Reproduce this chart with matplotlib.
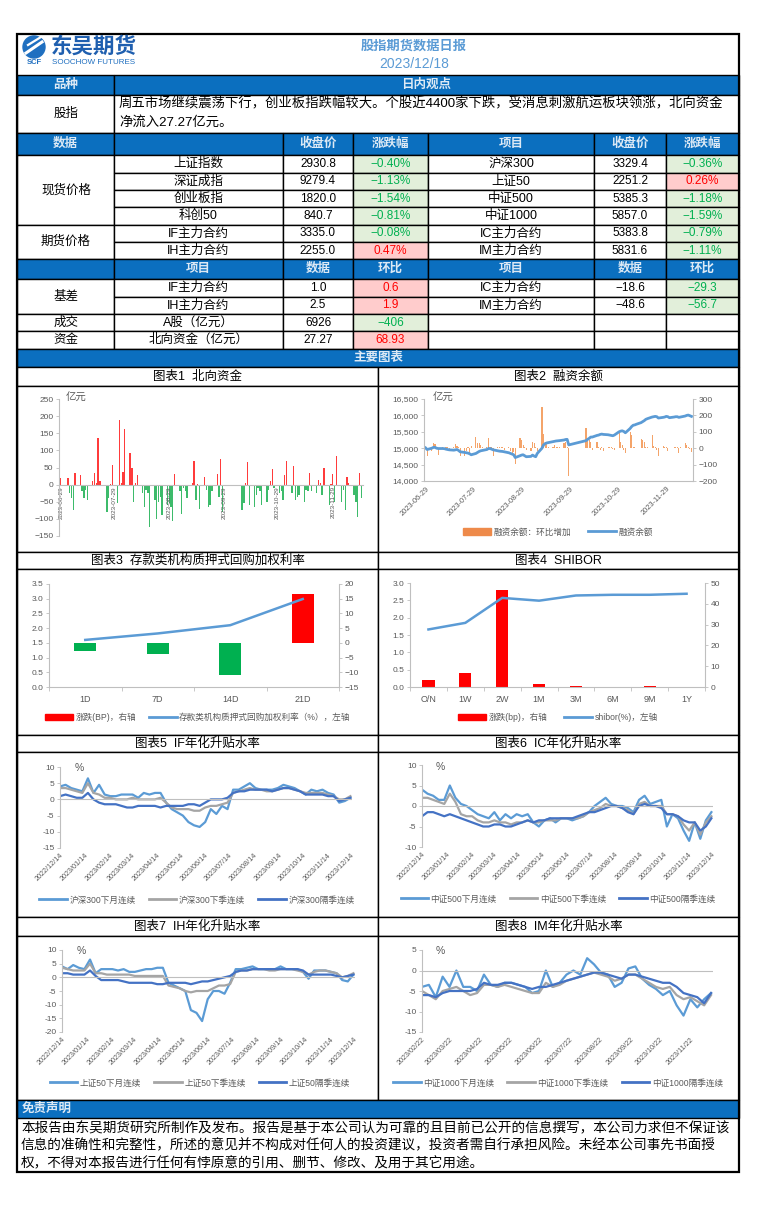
import numpy as np
import pandas as pd
import matplotlib
matplotlib.use("Agg")
import matplotlib.pyplot as plt
from matplotlib.patches import Rectangle, Circle
from matplotlib.lines import Line2D
from matplotlib.ticker import FuncFormatter

plt.rcParams['font.family'] = ['Liberation Sans', 'Noto Sans CJK SC', 'DejaVu Sans']
plt.rcParams['axes.unicode_minus'] = True

W, H = 757, 1206
BLUE = '#0B6FBF'
HEAD_TXT = '#DCE9F5'
GRAY = '#595959'
SPINE = '#BFBFBF'
RED_BG, RED_TX = '#FFCCCC', '#FF0000'
GRN_BG, GRN_TX = '#E2EFDA', '#00B050'
C_LIGHT, C_GRAY, C_DARK = '#5B9BD5', '#A5A5A5', '#4472C4'

# ---------------- table data ----------------
report_date = "2023/12/18"
comment = ["周五市场继续震荡下行，创业板指跌幅较大。个股近4400家下跌，受消息刺激航运板块领涨，北向资金",
           "净流入27.27亿元。"]
names_left = ["上证指数", "深证成指", "创业板指", "科创50", "IF主力合约", "IH主力合约"]
close_left = [2930.8, 9279.4, 1820.0, 840.7, 3335.0, 2255.0]
chg_left = [-0.40, -1.13, -1.54, -0.81, -0.08, 0.47]
names_right = ["沪深300", "上证50", "中证500", "中证1000", "IC主力合约", "IM主力合约"]
close_right = [3329.4, 2251.2, 5385.3, 5857.0, 5383.8, 5831.6]
chg_right = [-0.36, 0.26, -1.18, -1.59, -0.79, -1.11]
basis_names_l = ["IF主力合约", "IH主力合约"]
basis_l = [1.0, 2.5]
basis_chg_l = [0.6, 1.9]
basis_names_r = ["IC主力合约", "IM主力合约"]
basis_r = [-18.6, -48.6]
basis_chg_r = [-29.3, -56.7]
turnover = 6926
turnover_chg = -406
north = 27.27
north_chg = 68.93

# ---------------- chart data ----------------
holidays = ["2023-09-29", "2023-10-02", "2023-10-03", "2023-10-04", "2023-10-05", "2023-10-06"]
trade_days = pd.bdate_range("2023-06-29", "2023-12-15").drop(pd.to_datetime(holidays))

north_flow = [18, -5,
              20, -25, -40, -75, 35, 27, -20, -40, -15, -45, 12, 35, 5, 135, 12,
              -5, -80, -40, 3, 57, -55, 190, 5, 38, 163, 92, 48, -50, 5, 27,
              -25, -65, -15, -25, -125, -45, -100, -50, -35, -90, -60, -55, -65, -105, 32,
              -20, -85, -10, -20, -40, 5, 68, -45, 3, -70, 22, -15, -65, -60, -20,
              30, -35, 75, -80,
              -75, -55, 5, 67, -60, -65, -30, -10, -20, -60, -50, -15, 12, 45, -10,
              -25, -20, -45, 28, 70, -25, 53, -45, -35, -30, -50, -15, -20, 35, -20,
              -25, 14, 5, -30, 50, -60, 3, 30, -50, 83, -50, -15, -75, 22, 5,
              -30, -50, -95, 35, -40]

margin_chg = [10, -50,
              -20, 30, 25, 5, -40, 5, 3, 8, 5, -15, 10, 25, 12, 10, -45,
              -45, -20, 5, -30, 15, 70, 30, 30, 20, 5, 10, 60, 8, 5, -50,
              5, 5, 10, 5, -10, 5, -20, -30, -25, -95, 65, 50, 20, 5, -10,
              -20, 40, 30, 10, -15, 250, 85, 40, 30, 10, 10, 20, 8, 5, 10,
              30, 40, 5, -170,
              125, 60, 50, 40, -10, 40, 5, -10, 5, -20, 10, 10, 5, -5, -10,
              100, 40, 20, -10, -30, 100, 80, 10, 5, 3, 55, 50, 40, 10, 5,
              80, 15, 5, -10, -50, 15, 10, 5, -15, 3, 10, 5, 10, -30, 5,
              30, 20, 10, -5, -25]

margin_bal = [15010, 14960,
              15000, 15025, 15025, 15000, 14990, 14990, 14985, 14970, 14960, 14950,
              14940, 14950, 14960, 14930, 14890, 14870, 14860, 14850, 14830, 14800,
              14840, 14870, 14900, 14920, 14930, 14960, 14990, 14990, 14970, 14950,
              14920, 14910, 14905, 14900, 14890, 14860, 14840, 14820, 14800, 14715,
              14770, 14790, 14800, 14770, 14740, 14750, 14790, 14760, 14740, 14840,
              15000, 15100, 15140, 15160, 15170, 15200, 15210, 15220, 15225, 15230,
              15250, 15265, 15270, 15100,
              15230, 15270, 15300, 15340, 15340, 15390, 15400, 15420, 15430, 15420,
              15410, 15400, 15390, 15380, 15400, 15500, 15520, 15530, 15510, 15470,
              15600, 15660, 15700, 15710, 15730, 15780, 15810, 15840, 15880, 15900,
              15950, 15960, 15970, 15960, 15920, 15940, 15950, 15970, 15960, 15930,
              15950, 15960, 15960, 15940, 15950, 15980, 16000, 16010, 15990, 15970]

repo_terms = ["1D", "7D", "14D", "21D"]
repo_rate = [1.60, 1.82, 2.10, 2.99]
repo_chg = [-2.7, -3.8, -10.9, 16.5]

shibor_terms = ["O/N", "1W", "2W", "1M", "3M", "6M", "9M", "1Y"]
shibor_rate = [1.66, 1.85, 2.57, 2.49, 2.64, 2.66, 2.66, 2.69]
shibor_chg = [3.2, 6.8, 46.5, 1.4, 0.6, 0.1, 0.6, 0.1]

ts_dates = pd.date_range("2022-12-14", periods=53, freq="7D")
im_dates = pd.date_range("2023-02-22", periods=43, freq="7D")

if_next_month = [4, 4.5, 3.5, 3, 2.5, 6.5, 2, 4.5, 1.5, 1, 1, 1.5, 1.5, 1.5, 0.5, 2, 1.5, 2, 2, -1,
                 -3, -4, -5, -7, -8, -8.5, -7, -3, -4.5, -2, -3, 3, 3, 4, 5, 3.5, 3, 3, 3, 3.5,
                 4.5, 4, 3.5, 2.5, 1.5, 3, 2.5, 3, 2, 1.5, -1, -0.5, 0.5]
if_next_quarter = [3.5, 3.5, 3, 2.5, 2, 5, 2, 1.5, 0.5, 0.5, 0, 0, 0, 0.5, 0, 0, 0, 0, 0.5, -1,
                   -2.5, -3, -3, -3, -3.5, -3.5, -2.5, -2, -2, -1.5, -1, 2, 2.5, 3, 3.5, 3, 3, 2.5, 2.5, 3,
                   3.5, 3.5, 3, 2.5, 2, 2, 2, 2, 1.5, 1, 0, 0, 1]
if_far_quarter = [1, 1.5, 1, 0.5, 0.5, 2, 0, -1, -1.5, -1.5, -1.5, -2, -2.5, -2.5, -2, -2, -2, -2, -2.5, -2,
                  -2, -2, -2, -1.5, -1.5, -2, -1, 0, 0, 0, 0.5, 2, 2.5, 2.5, 3, 3, 3, 3, 2.5, 3,
                  3.5, 3.5, 3, 2.5, 1.5, 1.5, 1.5, 1.5, 1, 1, -0.5, 0, 0.5]

ic_next_month = [4, 3, 2.5, 1.5, 1.5, 5, 2, 0.5, 0, -1, -2, -2.5, -3, -1.5, -3.5, -2, -3, -2, -2.5, -2,
                 -4, -5, -3.5, -3, -4, -3, -3, -3.5, -3, -2.5, -1.5, 0, 1, 2, 0.5, 0, 0, -0.5, -1.5, 1.5,
                 2.5, 0.5, 1, 1.5, -5, -2, -3, -6, -8.5, -4, -8, -3.5, -1.5]
ic_next_quarter = [2, 2, 1.5, 1, 0.5, 3, 1, -2, -2.5, -2.5, -3.5, -4, -4, -3.5, -4, -4, -4.5, -4, -4, -3.5,
                   -4, -4, -3.5, -3.5, -3.5, -3, -3, -3, -3, -2.5, -1.5, -1, -0.5, 0.5, 0, 0, -0.5, -1, -2, 0.5,
                   1, 0, 0, 0, -2, -2, -2.5, -4.5, -6, -4, -7, -4, -2.5]
ic_far_quarter = [-2.5, -1.5, -1.5, -2, -2.5, -2, -2.5, -3, -3.5, -4, -4.5, -5, -5, -4.5, -4.5, -5, -5, -4.5, -4, -3.5,
                  -4, -3.5, -3.5, -3, -3, -3, -3, -3, -2.5, -2, -1.5, -1.5, -1, -0.5, 0, 0, -0.5, -1.5, -2, 0,
                  0.5, 0, 0, -0.5, -2, -2, -2.5, -3.5, -4, -4, -6, -5, -3]

ih_next_month = [4, 3, 4.5, 3.5, 3, 6.5, 1.5, 3, 3, 3, 2.5, 3, 2, 2, 2.5, 3, 3, 3.5, 3.5, -2,
                 -3, -4, -5, -12, -13, -16, -8, -5, -5, -6, -2, 3, 3, 3.5, 4, 3, 3, 3, 3, 4,
                 3, 3, 3, 2, -0.5, 2.5, 2.5, 2.5, 2, 1.5, -1, -1.5, 1]
ih_next_quarter = [3.5, 3, 2.5, 2.5, 2.5, 5, 1.5, 1.5, 1, 1, 1, 1, 1, 0.5, 0.5, 0.5, 0.5, 0.5, 0.5, -3,
                   -3.5, -4, -5, -5.5, -5, -5, -5, -4, -3, -3, -2.5, 2, 2.5, 2.5, 3, 3, 3, 2.5, 2.5, 3,
                   3, 3, 2.5, 2, 1, 2, 2.5, 2.5, 2, 1.5, 0, 0.5, 1.5]
ih_far_quarter = [1.5, 1.5, 1, 1, 1, 2.5, 0.5, -1, -1, -1, -1, -1.5, -2, -2, -2, -2, -2, -2.5, -2.5, -2,
                  -2, -2, -2, -2.5, -2, -1.5, -1.5, -1, -0.5, 0, 0.5, 2, 2.5, 2.5, 3, 3, 3, 3, 3, 3,
                  3, 3, 3, 2.5, 1, 1, 1, 1, 1, 0.5, 0, 0.5, 1]

im_next_month = [-4, -3.5, -6.5, -1.5, -4, 0, -4, -4, -5, -1, -3.5, -4, -3, -3, -3.5, -4, -5.5, -5, 0, -4,
                 -3, -1, 0, -1, 3, 1.5, -0.5, -1, -4, -3, 0.5, 1, -2, -3.5, -4.5, -6, -5, -8.5, -11, -7,
                 -9, -7, -5.5]
im_next_quarter = [-5, -6, -7, -5, -4.5, -4, -5, -6, -5.5, -3.5, -3.5, -4, -3.5, -4, -4.5, -5, -5.5, -5.5, -3, -4,
                   -3.5, -2.5, -2, -1.5, -1, -0.5, -1, -1.5, -2.5, -2, -1, -1, -2, -3, -4, -4.5, -4, -6, -7, -6.5,
                   -7.5, -8.5, -6]
im_far_quarter = [-6, -6, -6.5, -5.5, -5, -5, -5, -5, -4.5, -3, -3.5, -3.5, -3, -3, -3.5, -4, -4.5, -4, -4, -3.5,
                  -3, -2.5, -2, -1.5, -1, -0.5, -0.5, -1, -1.5, -2, -1, -1, -1.5, -2, -2.5, -3, -3, -4, -5.5, -6,
                  -6.5, -8, -5.5]

# ---------------- page ----------------
fig = plt.figure(figsize=(W / 100, H / 100), dpi=100)
bg = fig.add_axes([0, 0, 1, 1])
bg.set_xlim(0, W)
bg.set_ylim(H, 0)
bg.axis('off')


def box(x0, y0, x1, y1, fc='white', lw=1.0):
    bg.add_patch(Rectangle((x0, y0), x1 - x0, y1 - y0, facecolor=fc, edgecolor='black', lw=lw))


def txt(x, y, s, size=9, color='black', weight='normal', ha='center'):
    bg.text(x, y, s, fontsize=size, color=color, fontweight=weight, ha=ha, va='center')


def head(x0, y0, x1, y1, s=''):
    box(x0, y0, x1, y1, fc=BLUE)
    if s:
        txt((x0 + x1) / 2, (y0 + y1) / 2, s, size=9, color=HEAD_TXT, weight='bold')


def pct_cell(x0, y0, x1, y1, v, fmt):
    fc, tc = (RED_BG, RED_TX) if v > 0 else (GRN_BG, GRN_TX)
    box(x0, y0, x1, y1, fc=fc)
    txt((x0 + x1) / 2, (y0 + y1) / 2, fmt(v), size=8.5, color=tc)


def num(v, d=1):
    return f"{v:.{d}f}".replace("-", "\u2212")


# header / logo
bg.add_patch(Circle((34, 47), 11, color='#1F6FC0'))
bg.plot([26, 42], [53, 42], color='white', lw=2.2)
bg.plot([28, 41], [45, 37], color='white', lw=1.6)
txt(34, 63, "SCF", size=5.5, color='#1F6FC0', weight='bold')
txt(51, 47, "东吴期货", size=15.5, color='#1F5FAF', weight='bold', ha='left')
txt(52, 63, "SOOCHOW FUTURES", size=5.8, color='#1F6FC0', ha='left')
txt(414, 46, "股指期货数据日报", size=9.5, color='#5B9BD5', weight='bold')
txt(414, 64, report_date, size=10, color='#5B9BD5')

cols = [17, 114, 283, 353, 428, 594, 666, 739]
head(17, 75, 114, 95, "品种")
head(114, 75, 739, 95, "日内观点")
box(17, 95, 114, 133)
txt(66, 114, "股指", size=9)
box(114, 95, 739, 133)
txt(119, 104, comment[0], size=9.6, ha='left')
txt(119, 122, comment[1], size=9.6, ha='left')

hdr1 = ["数据", "", "收盘价", "涨跌幅", "项目", "收盘价", "涨跌幅"]
for i, s in enumerate(hdr1):
    head(cols[i], 133, cols[i + 1], 155, s)

row_y = [155, 173, 190, 207, 225, 242, 259]
box(17, 155, 114, 225)
txt(66, 190, "现货价格", size=9)
box(17, 225, 114, 259)
txt(66, 242, "期货价格", size=9)
for r in range(6):
    y0, y1 = row_y[r], row_y[r + 1]
    ym = (y0 + y1) / 2
    box(cols[1], y0, cols[2], y1)
    txt((cols[1] + cols[2]) / 2, ym, names_left[r])
    box(cols[2], y0, cols[3], y1)
    txt((cols[2] + cols[3]) / 2, ym, num(close_left[r]), size=8.5)
    pct_cell(cols[3], y0, cols[4], y1, chg_left[r], lambda v: num(v, 2) + "%")
    box(cols[4], y0, cols[5], y1)
    txt((cols[4] + cols[5]) / 2, ym, names_right[r])
    box(cols[5], y0, cols[6], y1)
    txt((cols[5] + cols[6]) / 2, ym, num(close_right[r]), size=8.5)
    pct_cell(cols[6], y0, cols[7], y1, chg_right[r], lambda v: num(v, 2) + "%")

hdr2 = ["", "项目", "数据", "环比", "项目", "数据", "环比"]
for i, s in enumerate(hdr2):
    head(cols[i], 259, cols[i + 1], 279, s)

low_y = [279, 297, 314, 331, 349]
box(17, 279, 114, 314)
txt(66, 297, "基差", size=9)
for r in range(2):
    y0, y1 = low_y[r], low_y[r + 1]
    ym = (y0 + y1) / 2
    box(cols[1], y0, cols[2], y1)
    txt((cols[1] + cols[2]) / 2, ym, basis_names_l[r])
    box(cols[2], y0, cols[3], y1)
    txt((cols[2] + cols[3]) / 2, ym, num(basis_l[r]), size=8.5)
    pct_cell(cols[3], y0, cols[4], y1, basis_chg_l[r], num)
    box(cols[4], y0, cols[5], y1)
    txt((cols[4] + cols[5]) / 2, ym, basis_names_r[r])
    box(cols[5], y0, cols[6], y1)
    txt((cols[5] + cols[6]) / 2, ym, num(basis_r[r]), size=8.5)
    pct_cell(cols[6], y0, cols[7], y1, basis_chg_r[r], num)

for r, (lab, item, val, chg, fmt) in enumerate([
        ("成交", "A股（亿元）", turnover, turnover_chg, lambda v: num(v, 0)),
        ("资金", "北向资金（亿元）", north, north_chg, lambda v: num(v, 2))]):
    y0, y1 = low_y[r + 2], low_y[r + 3]
    ym = (y0 + y1) / 2
    box(17, y0, 114, y1)
    txt(66, ym, lab)
    box(cols[1], y0, cols[2], y1)
    txt((cols[1] + cols[2]) / 2, ym, item)
    box(cols[2], y0, cols[3], y1)
    txt((cols[2] + cols[3]) / 2, ym, fmt(val), size=8.5)
    pct_cell(cols[3], y0, cols[4], y1, chg, fmt)
    for c in range(4, 7):
        box(cols[c], y0, cols[c + 1], y1)

head(17, 349, 739, 367, "主要图表")

# chart panels
panel_rows = [(367, 386, 552), (552, 569, 735), (735, 752, 917), (917, 936, 1100)]
titles = [("图表1  北向资金", "图表2  融资余额"),
          ("图表3  存款类机构质押式回购加权利率", "图表4  SHIBOR"),
          ("图表5  IF年化升贴水率", "图表6  IC年化升贴水率"),
          ("图表7  IH年化升贴水率", "图表8  IM年化升贴水率")]
for (t0, t1, b), (tl, tr) in zip(panel_rows, titles):
    box(17, t0, 378, t1)
    box(378, t0, 739, t1)
    box(17, t1, 378, b)
    box(378, t1, 739, b)
    txt(197.5, (t0 + t1) / 2 + 0.5, tl, size=9)
    txt(558.5, (t0 + t1) / 2 + 0.5, tr, size=9)

head(17, 1100, 739, 1118)
txt(22, 1109, "免责声明", size=9, color=HEAD_TXT, weight='bold', ha='left')
disclaimer = ["本报告由东吴期货研究所制作及发布。报告是基于本公司认为可靠的且目前已公开的信息撰写，本公司力求但不保证该",
              "信息的准确性和完整性，所述的意见并不构成对任何人的投资建议，投资者需自行承担风险。未经本公司事先书面授",
              "权，不得对本报告进行任何有悖原意的引用、删节、修改、及用于其它用途。"]
for i, line in enumerate(disclaimer):
    txt(21, 1128 + i * 17.5, line, size=9.8, ha='left')
bg.add_patch(Rectangle((17, 34), 722, 1138, facecolor='none', edgecolor='black', lw=1.6))


# ---------------- charts ----------------
def add_ax(x0, y0, x1, y1):
    ax = fig.add_axes([x0 / W, 1 - y1 / H, (x1 - x0) / W, (y1 - y0) / H])
    ax.set_facecolor('none')
    return ax


def style(ax, left=True, right=False, bottom=False):
    for side in ['top', 'right', 'left', 'bottom']:
        ax.spines[side].set_visible(False)
    for side, on in [('left', left), ('right', right), ('bottom', bottom)]:
        if on:
            ax.spines[side].set_visible(True)
            ax.spines[side].set_color(SPINE)
            ax.spines[side].set_linewidth(0.8)
    ax.tick_params(colors=SPINE, labelcolor=GRAY, labelsize=6, length=2, width=0.6, pad=2)


def twin_left(ax):
    # line axis on the left, bar axis keeps the right side
    tw = ax.twinx()
    ax.yaxis.tick_right()
    ax.yaxis.set_label_position('right')
    tw.yaxis.tick_left()
    tw.yaxis.set_label_position('left')
    style(tw, left=True)
    return tw


def legend_at(handles, labels, cx, cy, ncol, spacing=2.0):
    fig.legend(handles, labels, loc='center', bbox_to_anchor=(cx / W, 1 - cy / H), ncol=ncol,
               frameon=False, fontsize=6.2, handlelength=3.2, handletextpad=0.3,
               columnspacing=spacing, labelcolor=GRAY)


one_day = pd.Timedelta(days=1)
month_ticks = pd.to_datetime(["2023-06-29", "2023-07-29", "2023-08-29",
                              "2023-09-29", "2023-10-29", "2023-11-29"])

# chart 1
ax1 = add_ax(59, 399, 363, 536)
style(ax1, bottom=True)
flow = np.array(north_flow)
ax1.bar(trade_days, flow, width=0.7, color=np.where(flow >= 0, '#FF3B3B', '#3DBB6B'))
ax1.set_ylim(-150, 250)
ax1.set_yticks(range(-150, 251, 50))
ax1.set_xlim(trade_days[0] - one_day, trade_days[-1] + one_day)
ax1.spines['bottom'].set_position(('data', 0))
ax1.set_xticks(month_ticks)
ax1.set_xticklabels([d.strftime("%Y-%m-%d") for d in month_ticks], rotation=90, fontsize=4.6)
ax1.tick_params(axis='x', length=0, pad=1)
txt(76, 398, "亿元", size=7.5, color=GRAY)

# chart 2
ax2 = add_ax(424, 399, 693, 481)
style(ax2, left=False, right=True, bottom=True)
ax2.bar(trade_days, margin_chg, width=0.7, color='#F4A46A')
ax2.set_ylim(-200, 300)
ax2.set_yticks(range(-200, 301, 100))
ax2.set_xlim(trade_days[0] - one_day, trade_days[-1] + one_day)
ax2.set_xticks(month_ticks)
ax2.set_xticklabels([d.strftime("%Y-%m-%d") for d in month_ticks], fontsize=5.3)
plt.setp(ax2.get_xticklabels(), rotation=45, ha='right', rotation_mode='anchor')
ax2.tick_params(axis='x', length=0, pad=3)
ax2b = twin_left(ax2)
ax2b.plot(trade_days, margin_bal, color=C_LIGHT, lw=2)
ax2b.set_ylim(14000, 16500)
ax2b.set_yticks(range(14000, 16501, 500))
ax2b.yaxis.set_major_formatter(FuncFormatter(lambda v, p: f"{v:,.0f}"))
txt(443, 398, "亿元", size=7.5, color=GRAY)
legend_at([Rectangle((0, 0), 1, 1, color='#EE8A4A'), Line2D([], [], color=C_LIGHT, lw=2)],
          ["融资余额：环比增加", "融资余额"], 558, 532, 2)

# chart 3
ax3 = add_ax(49, 584, 339, 687)
style(ax3, left=False, right=True, bottom=True)
x3 = np.arange(len(repo_terms))
ax3.bar(x3, repo_chg, width=0.3, color=['#FF0000' if v > 0 else '#00B050' for v in repo_chg])
ax3.set_ylim(-15, 20)
ax3.set_yticks(range(-15, 21, 5))
ax3.set_xlim(-0.5, len(repo_terms) - 0.5)
ax3.set_xticks(x3)
ax3.set_xticklabels(repo_terms, fontsize=6.5)
ax3.set_xticks(np.arange(-0.5, len(repo_terms), 1.0), minor=True)
ax3.tick_params(axis='x', which='major', length=0, pad=6)
ax3.tick_params(axis='x', which='minor', length=3, color=SPINE)
ax3b = twin_left(ax3)
ax3b.plot(x3, repo_rate, color=C_LIGHT, lw=1.8)
ax3b.set_ylim(0, 3.5)
ax3b.set_yticks(np.arange(0, 3.51, 0.5))
ax3b.yaxis.set_major_formatter(FuncFormatter(lambda v, p: f"{v:.1f}"))
legend_at([Rectangle((0, 0), 1, 1, color='#FF0000'), Line2D([], [], color=C_LIGHT, lw=2)],
          ["涨跌(BP)，右轴", "存款类机构质押式回购加权利率（%），左轴"], 198, 717, 2, 1.5)

# chart 4
ax4 = add_ax(410, 583, 705, 687)
style(ax4, left=False, right=True, bottom=True)
x4 = np.arange(len(shibor_terms))
ax4.bar(x4, shibor_chg, width=0.33, color='#FF0000')
ax4.set_ylim(0, 50)
ax4.set_yticks(range(0, 51, 10))
ax4.set_xlim(-0.5, len(shibor_terms) - 0.5)
ax4.set_xticks(x4)
ax4.set_xticklabels(shibor_terms, fontsize=6.5)
ax4.set_xticks(np.arange(-0.5, len(shibor_terms), 1.0), minor=True)
ax4.tick_params(axis='x', which='major', length=0, pad=6)
ax4.tick_params(axis='x', which='minor', length=3, color=SPINE)
ax4b = twin_left(ax4)
ax4b.plot(x4, shibor_rate, color=C_LIGHT, lw=1.8)
ax4b.set_ylim(0, 3.0)
ax4b.set_yticks(np.arange(0, 3.01, 0.5))
ax4b.yaxis.set_major_formatter(FuncFormatter(lambda v, p: f"{v:.1f}"))
legend_at([Rectangle((0, 0), 1, 1, color='#FF0000'), Line2D([], [], color=C_LIGHT, lw=2)],
          ["涨跌(bp)，右轴", "shibor(%)，左轴"], 558, 717, 2)


# charts 5-8
def basis_chart(rect, dates, series, names, ylim, ticks, start, nticks, pct_xy, legend_xy):
    ax = add_ax(*rect)
    style(ax)
    for vals, color in zip(series, [C_LIGHT, C_GRAY, C_DARK]):
        ax.plot(dates, vals, color=color, lw=1.6)
    ax.axhline(0, color=SPINE, lw=0.8)
    ax.set_ylim(*ylim)
    ax.set_yticks(ticks)
    ax.yaxis.set_major_formatter(FuncFormatter(lambda v, p: f"{v:.0f}"))
    ax.set_xlim(dates[0], dates[-1] + 2 * one_day)
    tk = [pd.Timestamp(start) + pd.DateOffset(months=i) for i in range(nticks)]
    ax.set_xticks(tk)
    ax.set_xticklabels([d.strftime("%Y/%m/%d") for d in tk], fontsize=5.2)
    plt.setp(ax.get_xticklabels(), rotation=45, ha='right', rotation_mode='anchor')
    ax.tick_params(axis='x', length=0, pad=3)
    txt(pct_xy[0], pct_xy[1], "%", size=7.5, color=GRAY)
    legend_at([Line2D([], [], color=c, lw=2) for c in [C_LIGHT, C_GRAY, C_DARK]],
              names, legend_xy[0], legend_xy[1], 3, 1.5)


basis_chart((60, 767, 352, 848), ts_dates, [if_next_month, if_next_quarter, if_far_quarter],
            ["沪深300下月连续", "沪深300下季连续", "沪深300隔季连续"],
            (-15, 10), range(-15, 11, 5), "2022-12-14", 13, (79, 768), (197, 900))
basis_chart((422, 765, 713, 847), ts_dates, [ic_next_month, ic_next_quarter, ic_far_quarter],
            ["中证500下月连续", "中证500下季连续", "中证500隔季连续"],
            (-10, 10), range(-10, 11, 5), "2022-12-14", 13, (440, 767), (558, 899))
basis_chart((62, 950, 355, 1032), ts_dates, [ih_next_month, ih_next_quarter, ih_far_quarter],
            ["上证50下月连续", "上证50下季连续", "上证50隔季连续"],
            (-20, 10), range(-20, 11, 5), "2022-12-14", 13, (81, 951), (200, 1083))
basis_chart((422, 950, 713, 1032), im_dates, [im_next_month, im_next_quarter, im_far_quarter],
            ["中证1000下月连续", "中证1000下季连续", "中证1000隔季连续"],
            (-15, 5), range(-15, 6, 5), "2023-02-22", 10, (440, 951), (558, 1083))

fig.savefig("out.png", dpi=100)
